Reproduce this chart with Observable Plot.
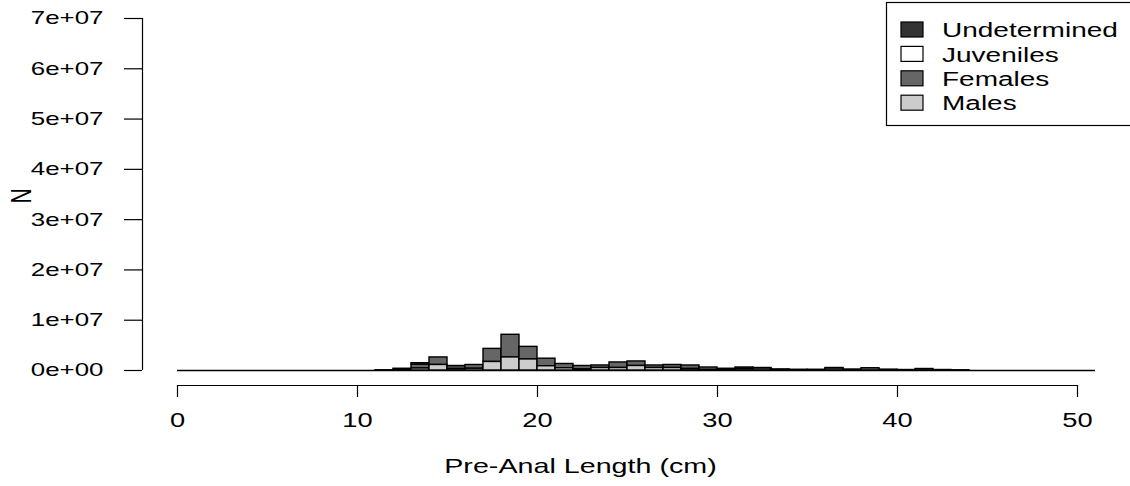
<!DOCTYPE html>
<html>
<head>
<meta charset="utf-8">
<script src="https://cdn.jsdelivr.net/npm/d3@7"></script>
<script src="https://cdn.jsdelivr.net/npm/@observablehq/plot@0.6"></script>
<style>
  body { margin: 0; background: #fff; }
  #wrap { width: 1130px; height: 486px; overflow: hidden; }
</style>
</head>
<body>
<div id="wrap"></div>
<script>
// ---- data (values in millions of individuals, 1 cm bins; left edge of bin) ----
const groups = ["Undetermined", "Juveniles", "Females", "Males"];
const groupFills = ["#333333", "#ffffff", "#666666", "#cccccc"];
const stackOrder = ["Males", "Females", "Juveniles", "Undetermined"];
const binWidth = 1;
const histExtent = [0, 51];
const lengths      = [11, 12, 13, 14, 15, 16, 17, 18, 19, 20, 21, 22, 23, 24, 25, 26, 27, 28, 29, 30, 31, 32, 33, 34, 35, 36, 37, 38, 39, 40, 41, 42, 43];
const males        = [0, 0, 0.4, 1.1, 0.3, 0.35, 1.7, 2.6, 2.2, 0.85, 0.45, 0.2, 0.5, 0.5, 0.9, 0.5, 0.5, 0.3, 0.1, 0, 0.3, 0, 0, 0, 0, 0, 0, 0, 0.1, 0, 0, 0, 0.05];
const females      = [0, 0.15, 0.75, 1.5, 0.55, 0.75, 2.6, 4.5, 2.5, 1.5, 0.85, 0.7, 0.5, 1.1, 0.9, 0.5, 0.6, 0.7, 0.5, 0.25, 0.3, 0.4, 0.15, 0.15, 0.15, 0.4, 0.2, 0.45, 0.05, 0.1, 0.3, 0.1, 0];
const juveniles    = [0, 0, 0.3, 0, 0, 0, 0, 0, 0, 0, 0, 0, 0, 0, 0, 0, 0, 0, 0, 0, 0, 0, 0, 0, 0, 0, 0, 0, 0, 0, 0, 0, 0];
const undetermined = [0.05, 0.2, 0, 0, 0.05, 0, 0, 0, 0, 0, 0, 0, 0, 0, 0, 0, 0, 0, 0, 0.1, 0, 0.1, 0.05, 0, 0, 0.1, 0, 0, 0, 0, 0, 0, 0];
const xTicks = [0, 10, 20, 30, 40, 50];
const xTickLabels = ["0", "10", "20", "30", "40", "50"];
const yTicks = [0, 1e7, 2e7, 3e7, 4e7, 5e7, 6e7, 7e7];
const yTickLabels = ["0e+00", "1e+07", "2e+07", "3e+07", "4e+07", "5e+07", "6e+07", "7e+07"];
const xLabel = "Pre-Anal Length (cm)";
const yLabel = "N";

// ---- build long table ----
const series = {Undetermined: undetermined, Juveniles: juveniles, Females: females, Males: males};
const table = [];
lengths.forEach((lo, i) => {
  for (const g of groups) {
    const v = series[g][i];
    if (v > 0) table.push({lo, hi: lo + binWidth, group: g, n: v * 1e6});
  }
});

const font = "'Liberation Sans', Arial, Helvetica, sans-serif";
const chart = Plot.plot({
  width: 1130,
  height: 486,
  marginLeft: 177,
  marginRight: 35,
  marginTop: 18,
  marginBottom: 116,
  style: {fontFamily: font, fontSize: "18.5px", color: "#000", background: "#fff"},
  x: {domain: histExtent},
  y: {domain: [yTicks[0], yTicks[yTicks.length - 1]]},
  color: {domain: groups, range: groupFills},
  marks: [
    Plot.ruleY([0], {x1: histExtent[0], x2: histExtent[1], stroke: "#000", strokeWidth: 1.5}),
    Plot.rectY(table, {x1: "lo", x2: "hi", y: "n", fill: "group", order: stackOrder, stroke: "#000", strokeWidth: 1.4}),
    Plot.ruleX([0], {y1: yTicks[0], y2: yTicks[yTicks.length - 1], dx: -35, stroke: "#000", strokeWidth: 1.2}),
    Plot.axisY({ticks: yTicks, tickSize: 18, tickPadding: 21, dx: -35, tickFormat: d => yTickLabels[yTicks.indexOf(d)], label: null, strokeWidth: 1.2}),
    Plot.ruleY([0], {x1: xTicks[0], x2: xTicks[xTicks.length - 1], dy: 15, stroke: "#000", strokeWidth: 1.2}),
    Plot.axisX({ticks: xTicks, tickSize: 12, tickPadding: 16, dy: 15, tickFormat: d => xTickLabels[xTicks.indexOf(d)], label: null, strokeWidth: 1.2, fontSize: 19.5}),
    Plot.text([yLabel], {frameAnchor: "left", dx: -156, dy: 9, rotate: -90, fontSize: 21, text: d => d}),
    Plot.text([xLabel], {frameAnchor: "bottom", dx: -56, dy: 102, fontSize: 20.5, text: d => d})
  ]
});

// ---- legend box (top right) ----
const svg = d3.select(chart);
const lg = svg.append("g").attr("font-family", font).attr("text-anchor", "start");
lg.append("rect").attr("x", 886.5).attr("y", 2.5).attr("width", 300).attr("height", 123)
  .attr("fill", "#fff").attr("stroke", "#000").attr("stroke-width", 1.2);
groups.forEach((g, i) => {
  lg.append("rect").attr("x", 901).attr("y", 22 + i * 24.4).attr("width", 22).attr("height", 15)
    .attr("fill", groupFills[i]).attr("stroke", "#000").attr("stroke-width", 1.2);
  lg.append("text").attr("x", 942).attr("y", 37.3 + i * 24.4).attr("font-size", 20)
    .attr("text-anchor", "start").attr("fill", "#000").text(g);
});

// ---- horizontal stretch of text, as in the reference ----
const sx = 1.4;
svg.selectAll("text").each(function () {
  const t = this.getAttribute("transform") || "";
  if (/rotate\(/.test(t)) {
    this.setAttribute("transform", t.replace("rotate(", `scale(${sx},1) rotate(`));
  } else if (this.hasAttribute("x")) {
    const x = +this.getAttribute("x");
    this.setAttribute("transform", `${t} translate(${x},0) scale(${sx},1) translate(${-x},0)`);
  } else {
    this.setAttribute("transform", `${t} scale(${sx},1)`);
  }
});

document.getElementById("wrap").appendChild(chart);
</script>
</body>
</html>
